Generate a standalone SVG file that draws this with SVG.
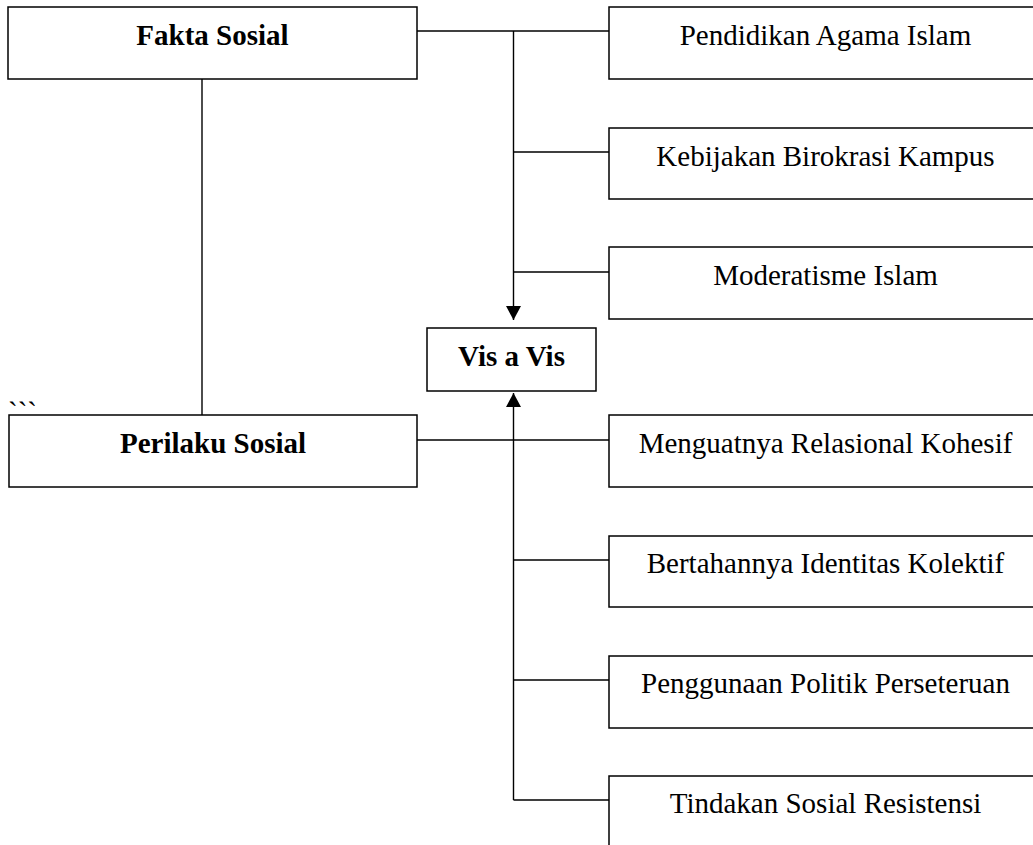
<svg xmlns="http://www.w3.org/2000/svg" width="1033" height="845" viewBox="0 0 1033 845">
<style>
.box{fill:#fff;stroke:#000;stroke-width:1.5}
.ln{fill:none;stroke:#000;stroke-width:1.4}
.t{font-family:"Liberation Serif","Times New Roman",serif;font-size:29px;fill:#000;text-anchor:middle}
.b{font-weight:bold}
</style>
<defs>
<marker id="ah" viewBox="0 0 14 15" refX="14" refY="7.5" markerWidth="14" markerHeight="15" markerUnits="userSpaceOnUse" orient="auto">
<path d="M0,0 L14,7.5 L0,15 z" fill="#000"/>
</marker>
</defs>
<rect width="1033" height="845" fill="#fff"/>
<g id="connectors">
<path class="ln" d="M417,31 H609"/>
<path class="ln" d="M513.5,31 V320" marker-end="url(#ah)"/>
<path class="ln" d="M513.5,152 H609 M513.5,272 H609"/>
<path class="ln" d="M202,79 V415"/>
<path class="ln" d="M417,440 H609"/>
<path class="ln" d="M513.5,800 V393" marker-end="url(#ah)"/>
<path class="ln" d="M513.5,560 H609 M513.5,680 H609 M513.5,800 H609"/>
</g>
<g id="fakta-sosial">
<rect class="box" x="8" y="7" width="409" height="72"/>
<text class="t b" x="212.5" y="45">Fakta Sosial</text>
</g>
<g id="perilaku-sosial">
<rect class="box" x="9" y="415" width="408" height="72"/>
<text class="t b" x="213" y="453">Perilaku Sosial</text>
</g>
<g id="ticks">
<text class="t" style="text-anchor:start" x="8" y="422">```</text>
</g>
<g id="vis-a-vis">
<rect class="box" x="427" y="328" width="169" height="63"/>
<text class="t b" x="511.5" y="366">Vis a Vis</text>
</g>
<g id="pendidikan">
<rect class="box" x="609" y="7" width="440" height="72"/>
<text class="t" x="825.5" y="45">Pendidikan Agama Islam</text>
</g>
<g id="kebijakan">
<rect class="box" x="609" y="128" width="440" height="71"/>
<text class="t" x="825.5" y="166">Kebijakan Birokrasi Kampus</text>
</g>
<g id="moderatisme">
<rect class="box" x="609" y="247" width="440" height="72"/>
<text class="t" x="825.5" y="285">Moderatisme Islam</text>
</g>
<g id="menguatnya">
<rect class="box" x="609" y="415" width="440" height="72"/>
<text class="t" x="825.5" y="453">Menguatnya Relasional Kohesif</text>
</g>
<g id="bertahannya">
<rect class="box" x="609" y="536" width="440" height="71"/>
<text class="t" x="825.5" y="573">Bertahannya Identitas Kolektif</text>
</g>
<g id="penggunaan">
<rect class="box" x="609" y="656" width="440" height="72"/>
<text class="t" x="825.5" y="693">Penggunaan Politik Perseteruan</text>
</g>
<g id="tindakan">
<rect class="box" x="609" y="776" width="440" height="100"/>
<text class="t" x="825.5" y="813">Tindakan Sosial Resistensi</text>
</g>
</svg>
